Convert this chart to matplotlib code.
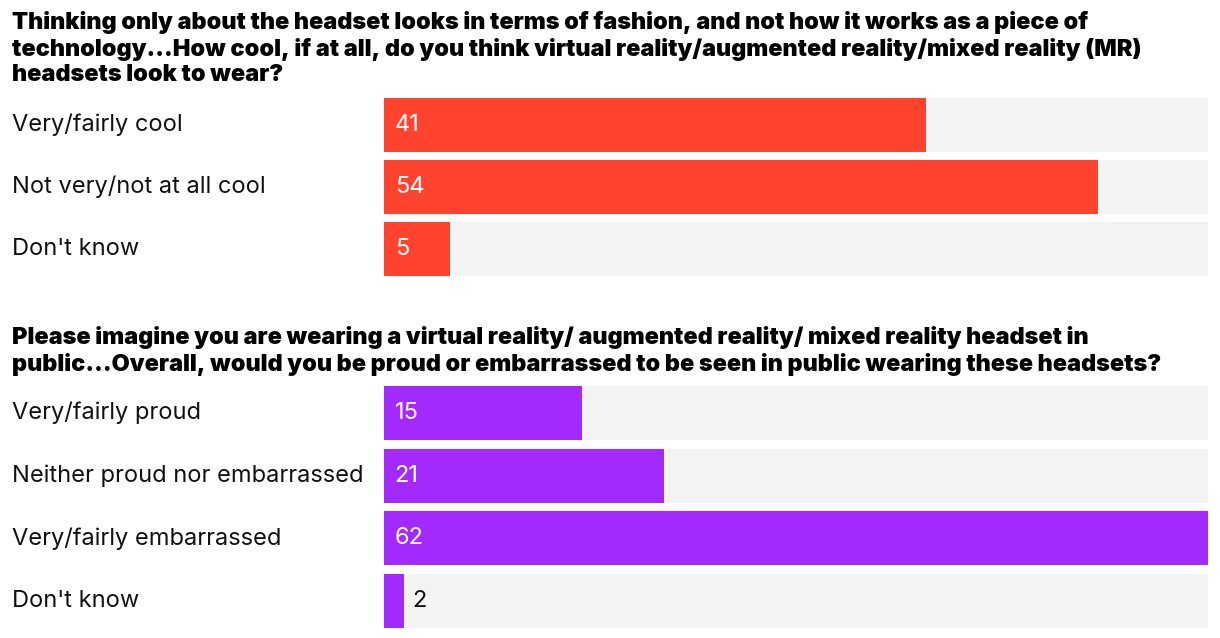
import matplotlib.pyplot as plt
from matplotlib import transforms

plt.rcParams['font.family'] = ['Inter', 'DejaVu Sans']

title1 = ("Thinking only about the headset looks in terms of fashion, and not how it works as a piece of\n"
          "technology...How cool, if at all, do you think virtual reality/augmented reality/mixed reality (MR)\n"
          "headsets look to wear?")
labels1 = ["Very/fairly cool", "Not very/not at all cool", "Don't know"]
values1 = [40.8, 53.7, 5.0]

title2 = ("Please imagine you are wearing a virtual reality/ augmented reality/ mixed reality headset in\n"
          "public...Overall, would you be proud or embarrassed to be seen in public wearing these headsets?")
labels2 = ["Very/fairly proud", "Neither proud nor embarrassed", "Very/fairly embarrassed", "Don't know"]
values2 = [14.9, 21.1, 62.0, 1.5]

W, H = 1220, 638
fig = plt.figure(figsize=(W / 100, H / 100), dpi=100)
xmax = 62


def panel(top_px, bottom_px, title_y_px, title, labels, values, color):
    ax = fig.add_axes([384 / W, 1 - bottom_px / H, (1208 - 384) / W, (bottom_px - top_px) / H])
    n = len(values)
    h = 54 / 62
    y = list(range(n))
    ax.barh(y, [xmax] * n, height=h, color='#f3f3f3')
    ax.barh(y, values, height=h, color=color)
    ax.set_xlim(0, xmax)
    ax.set_ylim(n - 1 + h / 2, -h / 2)
    ax.axis('off')
    tr = transforms.blended_transform_factory(fig.transFigure, ax.transData)
    for i, (lab, v) in enumerate(zip(labels, values)):
        ax.text(12 / W, i, lab, transform=tr, va='center', ha='left', fontsize=17, color='#111111')
        if v >= 4:
            ax.text(0.8, i, str(round(v)), va='center', ha='left', fontsize=17, color='white')
        else:
            ax.text(v + 0.65, i, str(round(v)), va='center', ha='left', fontsize=17, color='#111111')
    fig.text(12 / W, 1 - title_y_px / H, title, va='top', ha='left', fontsize=16.9,
             fontweight='black', color='black', linespacing=1.2)


panel(98, 276, 11, title1, labels1, values1, '#ff432e')
panel(386, 628, 326, title2, labels2, values2, '#a22aff')

fig.savefig('out.png', dpi=100)
